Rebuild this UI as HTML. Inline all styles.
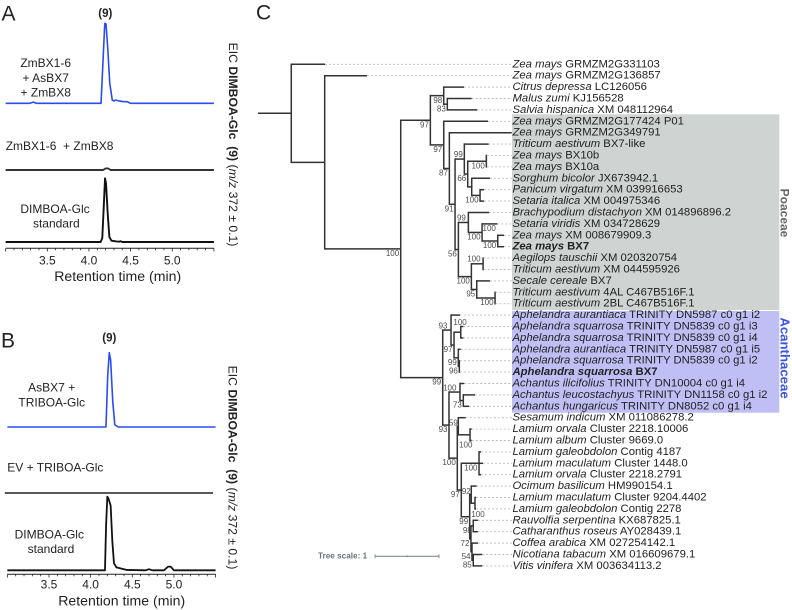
<!DOCTYPE html>
<html lang="en">
<head>
<meta charset="utf-8">
<title>DIMBOA-Glc chromatograms and BX7 phylogeny</title>
<style>
html,body{margin:0;padding:0;background:#fff;width:792px;height:610px;overflow:hidden}
svg{display:block}
text{font-family:"Liberation Sans",sans-serif;fill:#222;dominant-baseline:central}
</style>
</head>
<body>
<svg id="figure" xmlns="http://www.w3.org/2000/svg" width="792" height="610" viewBox="0 0 792 610">
  <rect x="512" y="114.3" width="267.3" height="195.7" fill="#cfd3d1"/>
  <rect x="512" y="311" width="267.3" height="101.7" fill="#bfbff5"/>

  <text x="1.5" y="14" font-size="21">A</text>
  <text x="1" y="341" font-size="21">B</text>
  <text x="256" y="13" font-size="21">C</text>

  <text x="105.3" y="14" font-size="11.5" font-weight="bold" text-anchor="middle">(9)</text>
  <text x="45.7" y="63" font-size="12" text-anchor="middle">ZmBX1-6</text>
  <text x="45.7" y="78" font-size="12" text-anchor="middle">+ AsBX7</text>
  <text x="45.7" y="92.7" font-size="12" text-anchor="middle">+ ZmBX8</text>
  <text x="5.7" y="146" font-size="12" xml:space="preserve">ZmBX1-6  + ZmBX8</text>
  <text x="55" y="209" font-size="12" text-anchor="middle">DIMBOA-Glc</text>
  <text x="56.3" y="223.7" font-size="12" text-anchor="middle">standard</text>
  <text x="117.7" y="276" font-size="14.1" text-anchor="middle">Retention time (min)</text>
  <text transform="translate(233,144.5) rotate(90)" font-size="12.2" text-anchor="middle" xml:space="preserve">EIC <tspan font-weight="bold">DIMBOA-Glc  (9)</tspan> (<tspan font-style="italic">m/z</tspan> 372 ± 0.1)</text>

  <text x="109.3" y="338.3" font-size="11.5" font-weight="bold" text-anchor="middle">(9)</text>
  <text x="51.7" y="387.3" font-size="12" text-anchor="middle">AsBX7 +</text>
  <text x="51.7" y="402.7" font-size="12" text-anchor="middle">TRIBOA-Glc</text>
  <text x="7.3" y="467.3" font-size="12">EV + TRIBOA-Glc</text>
  <text x="49.3" y="534.3" font-size="12" text-anchor="middle">DIMBOA-Glc</text>
  <text x="51" y="549" font-size="12" text-anchor="middle">standard</text>
  <text x="121.7" y="600.7" font-size="14.1" text-anchor="middle">Retention time (min)</text>
  <text transform="translate(232.7,467.5) rotate(90)" font-size="12.2" text-anchor="middle" xml:space="preserve">EIC <tspan font-weight="bold">DIMBOA-Glc  (9)</tspan> (<tspan font-style="italic">m/z</tspan> 372 ± 0.1)</text>

  <text transform="translate(784.5,213) rotate(90)" font-size="12" font-weight="bold" text-anchor="middle" style="fill:#666">Poaceae</text>
  <text transform="translate(785,358) rotate(90)" font-size="13.2" font-weight="bold" text-anchor="middle" style="fill:#3a55e6">Acanthaceae</text>

  <text x="318" y="556" font-size="8.2" font-weight="bold" style="fill:#6a7378">Tree scale: 1</text>

  <g id="panel-a"></g>
  <g id="panel-b"></g>
  <g id="tree"></g>
</svg>
<script>
/* ---------- chromatogram data (retention time in min, intensity in % of trace height) ---------- */
const axisTicksMajor = [3.5, 4.0, 4.5, 5.0];
const axisTickLabels = ['3.5', '4.0', '4.5', '5.0'];
const axisRange = [3.0, 5.5];

const a1Times = [3.0, 3.29, 3.33, 3.37, 4.145, 4.19, 4.205, 4.225, 4.25, 4.28, 4.30, 4.32, 4.36, 4.42, 4.46, 4.50, 5.5];
const a1Values = [0, 0, 1.5, 0, 0, 100, 99, 70, 25, 4, 3, 4, 3, 2, 2, 0, 0];
const a2Times = [3.0, 4.17, 4.20, 4.23, 4.26, 5.5];
const a2Values = [0, 0, 2.5, 2.5, 0, 0];
const a3Times = [3.0, 4.14, 4.16, 4.18, 4.193, 4.205, 4.225, 4.245, 4.27, 4.30, 4.33, 4.36, 4.38, 4.40, 5.5];
const a3Values = [0, 0, 6, 62, 100, 92, 45, 8, 2, 1.5, 0.8, 0.5, 1.2, 0, 0];

const b1Times = [3.0, 4.184, 4.205, 4.224, 4.24, 4.265, 4.29, 4.33, 5.5];
const b1Values = [0, 0, 70, 100, 90, 35, 3, 0, 0];
const b2Times = [3.0, 5.5];
const b2Values = [0, 0];
const b3Times = [3.0, 4.172, 4.185, 4.2, 4.212, 4.24, 4.26, 4.28, 4.31, 4.43, 4.66, 4.70, 4.74, 4.88, 4.93, 4.96, 5.0, 5.5];
const b3Values = [0, 0, 60, 100, 98, 88, 40, 9.5, 4, 0.5, 0, 1.5, 0, 0, 5, 5, 0, 0];

/* ---------- tree data (branch lengths in tree-scale units) ---------- */
const nodeNames = ['A','B','C','D','E','F','G','H','I','J','L','M','N','O','K','P','R','S','Q','T','U','V','W','X','Z','AA','AB','AC','Y','AD','AF','AE','AG','AH','AI','AJ','AK','AL','AN','AQ','AO','AR','AP'];
const nodeParents = [null,'A','B','C','D','E','D','G','H','I','J','L','L','N','I','K','P','R','K','Q','Q','U','C','W','X','Z','Z','AB','W','Y','AD','Y','AE','AG','AE','AI','AI','AK','AL','AK','AQ','AQ','AR'];
const nodeLengths = [0.520,0.522,1.188,0.463,0.209,0.056,0.209,0.088,0.089,0.145,0.053,0.291,0.0625,0.130,0.052,0.156,0.214,0.245,0.203,0.183,0.084,0.286,0.656,0.130,0.047,0.105,0.067,0.016,0.098,0.172,0.052,0.130,0.016,0.183,0.0625,0.277,0.131,0.025,0.058,0.020,0.036,0.016,0.020];
const nodeSupports = [null,null,100,97,98,83,97,87,91,99,66,100,null,100,56,99,100,100,100,100,95,100,99,93,97,100,99,96,93,100,73,100,59,100,97,100,99,92,100,72,98,54,85];

const tipSpecies = ['Zea mays','Zea mays','Citrus depressa','Malus zumi','Salvia hispanica','Zea mays','Zea mays','Triticum aestivum','Zea mays','Zea mays','Sorghum bicolor','Panicum virgatum','Setaria italica','Brachypodium distachyon','Setaria viridis','Zea mays','Zea mays','Aegilops tauschii','Triticum aestivum','Secale cereale','Triticum aestivum','Triticum aestivum','Aphelandra aurantiaca','Aphelandra squarrosa','Aphelandra squarrosa','Aphelandra aurantiaca','Aphelandra squarrosa','Aphelandra squarrosa','Achantus ilicifolius','Achantus leucostachyus','Achantus hungaricus','Sesamum indicum','Lamium orvala','Lamium album','Lamium galeobdolon','Lamium maculatum','Lamium orvala','Ocimum basilicum','Lamium maculatum','Lamium galeobdolon','Rauvolfia serpentina','Catharanthus roseus','Coffea arabica','Nicotiana tabacum','Vitis vinifera'];
const tipIds = ['GRMZM2G331103','GRMZM2G136857','LC126056','KJ156528','XM 048112964','GRMZM2G177424 P01','GRMZM2G349791','BX7-like','BX10b','BX10a','JX673942.1','XM 039916653','XM 004975346','XM 014896896.2','XM 034728629','XM 008679909.3','BX7','XM 020320754','XM 044595926','BX7','4AL C467B516F.1','2BL C467B516F.1','TRINITY DN5987 c0 g1 i2','TRINITY DN5839 c0 g1 i3','TRINITY DN5839 c0 g1 i4','TRINITY DN5987 c0 g1 i5','TRINITY DN5839 c0 g1 i2','BX7','TRINITY DN10004 c0 g1 i4','TRINITY DN1158 c0 g1 i2','TRINITY DN8052 c0 g1 i4','XM 011086278.2','Cluster 2218.10006','Cluster 9669.0','Contig 4187','Cluster 1448.0','Cluster 2218.2791','HM990154.1','Cluster 9204.4402','Contig 2278','KX687825.1','AY028439.1','XM 027254142.1','XM 016609679.1','XM 003634113.2'];
const tipParents = ['A','B','E','F','F','G','H','J','M','M','N','O','O','P','R','S','S','T','T','U','V','V','X','AA','AA','AB','AC','AC','AD','AF','AF','AG','AH','AH','AJ','AJ','AJ','AL','AN','AN','AO','AO','AR','AP','AP'];
const tipLengths = [0.527,0.661,0.317,0.381,0.469,0.692,0.975,0.381,0.008,0.008,0.286,0.0625,0.0625,0.323,0.239,0.098,0.098,0.008,0.008,0.208,0.008,0.008,0.141,0.041,0.041,0.0375,0.008,0.008,0.067,0.183,0.089,0.116,0.027,0.027,0.031,0.0625,0.031,0.084,0.016,0.016,0.073,0.073,0.094,0.141,0.141];
const tipBoldRows = [16, 27];
const tipSupportRows = [14];
const tipSupportValues = [100];
const treeScaleLength = 1;

/* ---------- label nudges (style only, px) ---------- */
const supportNudge = {J:[0,-9],P:[-1,-9.3],T:[-1,-9.3],X:[-2,-8.8],AD:[-2,-8.5],AG:[1,-8],AL:[1,-7.8],AA:[7.5,-14.2],AH:[3.9,5.7],AN:[11.2,6.6]};

const NS = 'http://www.w3.org/2000/svg';

/* ---------- axis functions ---------- */
function xPanelA(t) { return 47.3 + 83.3 * (t - 3.5); }
function xPanelB(t) { return 49 + 83.3 * (t - 3.5); }
function yIntensity(base, height, v) { return base - height * v / 100; }
function xTree(depth) { return 258 + 64 * depth; }
function yRow(row) { return 64.3 + 11.4 * row; }

function drawTrace(parent, name, times, values, xFn, base, height, color, width) {
  const p = document.createElementNS(NS, 'polyline');
  const pts = times.map(function (t, i) {
    return xFn(t).toFixed(2) + ',' + yIntensity(base, height, values[i]).toFixed(2);
  }).join(' ');
  p.setAttribute('points', pts);
  p.setAttribute('fill', 'none');
  p.setAttribute('stroke', color);
  p.setAttribute('stroke-width', width);
  p.setAttribute('stroke-linejoin', 'round');
  
  
  parent.appendChild(p);
}

function seg(parent, name, x1, y1, x2, y2, color, width, dash) {
  const l = document.createElementNS(NS, 'line');
  l.setAttribute('x1', x1);
  l.setAttribute('y1', y1);
  l.setAttribute('x2', x2);
  l.setAttribute('y2', y2);
  l.setAttribute('stroke', color);
  l.setAttribute('stroke-width', width);
  if (dash) l.setAttribute('stroke-dasharray', dash);
  
  
  parent.appendChild(l);
}

function drawAxis(parent, prefix, xFn, y, labelY) {
  seg(parent, prefix + '-x-axis-line', xFn(axisRange[0]), y, xFn(axisRange[1]), y, '#222', 1);
  const n = Math.round((axisRange[1] - axisRange[0]) * 10);
  for (let i = 0; i <= n; i++) {
    const t = axisRange[0] + i / 10;
    const major = i % 5 === 0;
    seg(parent, prefix + '-x-tick', xFn(t), y, xFn(t), y + (major ? 3.2 : 2), '#222', 0.8);
  }
  axisTicksMajor.forEach(function (t, i) {
    const lab = document.createElementNS(NS, 'text');
    lab.setAttribute('x', xFn(t));
    lab.setAttribute('y', labelY);
    lab.setAttribute('font-size', '12');
    lab.setAttribute('text-anchor', 'middle');
    
    
    lab.textContent = axisTickLabels[i];
    parent.appendChild(lab);
  });
}

const gA = document.getElementById('panel-a');
const gB = document.getElementById('panel-b');
const BLUE = '#2a4cf0';

drawTrace(gA, 'panel-a-trace-zmbx1-6-asbx7-zmbx8', a1Times, a1Values, xPanelA, 103.3, 80, BLUE, 1.6);
drawTrace(gA, 'panel-a-trace-zmbx1-6-zmbx8', a2Times, a2Values, xPanelA, 170, 64, '#333', 1.9);
drawTrace(gA, 'panel-a-trace-standard', a3Times, a3Values, xPanelA, 242, 63.7, '#111', 1.9);
drawAxis(gA, 'panel-a', xPanelA, 248.3, 260.7);

drawTrace(gB, 'panel-b-trace-asbx7-triboa-glc', b1Times, b1Values, xPanelB, 427, 74.3, BLUE, 1.6);
drawTrace(gB, 'panel-b-trace-ev-triboa-glc', b2Times, b2Values, function (t) { return xPanelB(t) - 2.5; }, 493, 74, '#222', 1.6);
drawTrace(gB, 'panel-b-trace-standard', b3Times, b3Values, xPanelB, 570.3, 73.6, '#111', 1.8);
drawAxis(gB, 'panel-b', xPanelB, 574.3, 584.3);

/* ---------- tree layout ---------- */
const gT = document.getElementById('tree');
const BR = '#333';
const BW = 1.5;
const labelX = 512;

const nodeDepth = {};
const nodeY = {};
nodeNames.forEach(function (n, i) {
  const par = nodeParents[i];
  nodeDepth[n] = (par ? nodeDepth[par] : 0) + nodeLengths[i];
});

function layoutNode(name) {
  const ys = [];
  nodeNames.forEach(function (n, i) {
    if (nodeParents[i] === name) ys.push(layoutNode(n));
  });
  tipParents.forEach(function (p, row) {
    if (p === name) ys.push(yRow(row));
  });
  const lo = Math.min.apply(null, ys);
  const hi = Math.max.apply(null, ys);
  nodeY[name] = (lo + hi) / 2;
  seg(gT, 'clade-connector-' + name.toLowerCase(), xTree(nodeDepth[name]), lo - BW / 2, xTree(nodeDepth[name]), hi + BW / 2, BR, BW);
  return nodeY[name];
}
layoutNode('A');

function supportLabel(text, x, y) {
  const t = document.createElementNS(NS, 'text');
  t.setAttribute('x', x);
  t.setAttribute('y', y);
  t.setAttribute('font-size', '8');
  t.setAttribute('text-anchor', 'end');
  t.setAttribute('style', 'fill:#4d4d4d');
  
  
  t.textContent = text;
  gT.appendChild(t);
}

nodeNames.forEach(function (n, i) {
  const par = nodeParents[i];
  const x = xTree(nodeDepth[n]);
  const px = par ? xTree(nodeDepth[par]) : xTree(0);
  seg(gT, 'internal-branch-' + n.toLowerCase(), px, nodeY[n], x, nodeY[n], BR, BW);
  if (nodeSupports[i] !== null) {
    const nudge = supportNudge[n] || [0, 0];
    supportLabel(String(nodeSupports[i]), x - 1.5 + nudge[0], nodeY[n] + 4.6 + nudge[1]);
  }
});

tipSpecies.forEach(function (sp, row) {
  const par = tipParents[row];
  const px = xTree(nodeDepth[par]);
  const x = xTree(nodeDepth[par] + tipLengths[row]);
  const y = yRow(row);
  seg(gT, 'tip-branch', px, y, x, y, BR, BW);
  if (x < labelX - 1) seg(gT, 'tip-leader-dotted', x, y, labelX, y, '#bdbdbd', 0.9, '2 2');
  const bold = tipBoldRows.indexOf(row) >= 0;
  const t = document.createElementNS(NS, 'text');
  t.setAttribute('x', labelX + 0.5);
  t.setAttribute('y', y);
  t.setAttribute('font-size', '11.3');
  
  
  if (bold) t.setAttribute('font-weight', 'bold');
  const it = document.createElementNS(NS, 'tspan');
  it.setAttribute('font-style', 'italic');
  it.textContent = sp;
  t.appendChild(it);
  t.appendChild(document.createTextNode(' ' + tipIds[row]));
  gT.appendChild(t);
});

tipSupportRows.forEach(function (row, i) {
  const x = xTree(nodeDepth[tipParents[row]] + tipLengths[row]);
  supportLabel(String(tipSupportValues[i]), x - 1.5, yRow(row) + 4.6);
});

/* tree scale bar */
const scaleY = 556.3;
const scaleStart = 375;
const scaleEnd = scaleStart + (xTree(treeScaleLength) - xTree(0));
const scaleColor = '#76807f';
seg(gT, 'tree-scale-bar', scaleStart, scaleY, scaleEnd, scaleY, scaleColor, 1);
seg(gT, 'tree-scale-tick', scaleStart, scaleY - 2, scaleStart, scaleY + 2, scaleColor, 0.8);
seg(gT, 'tree-scale-tick', (scaleStart + scaleEnd) / 2, scaleY - 1, (scaleStart + scaleEnd) / 2, scaleY + 1, scaleColor, 0.8);
seg(gT, 'tree-scale-tick', scaleEnd, scaleY - 2, scaleEnd, scaleY + 2, scaleColor, 0.8);
</script>
</body>
</html>
